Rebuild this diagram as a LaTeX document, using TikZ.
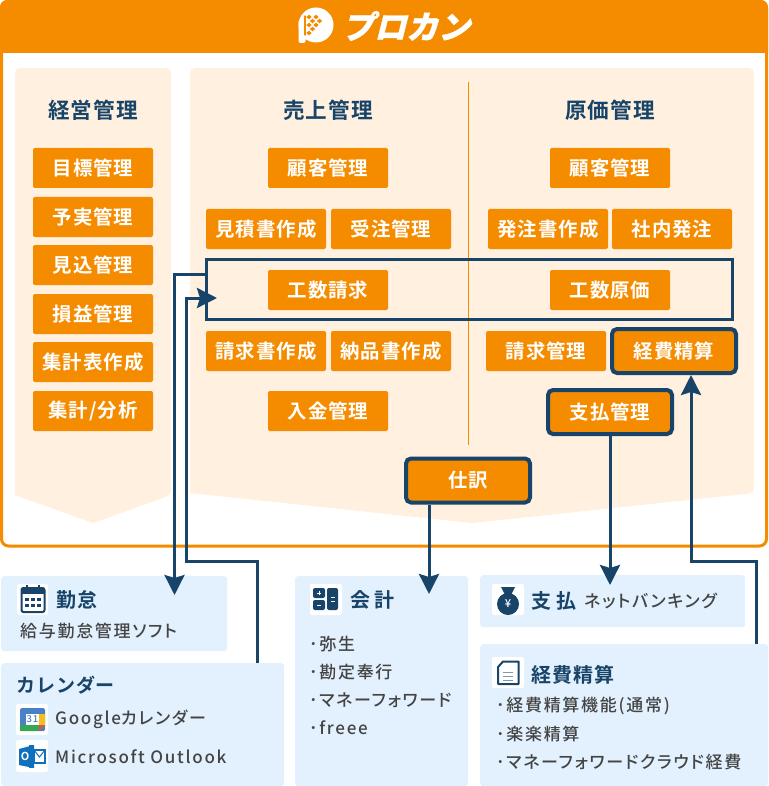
\documentclass[tikz,border=0pt]{standalone}
\usepackage{fontspec}
\setmainfont{Noto Sans CJK JP Medium}[UprightFeatures={LetterSpace=10,RawFeature=+palt},BoldFont={Noto Sans CJK JP Bold},BoldFeatures={LetterSpace=5}]
\newfontfamily\latinwide{Noto Sans CJK JP Medium}[LetterSpace=10]
\newfontfamily\logofont{Noto Sans CJK JP Black}[FakeSlant=0.25,FakeBold=1.2]
\usetikzlibrary{arrows.meta}
\definecolor{kanorange}{HTML}{F58C00}
\definecolor{kanpanel}{HTML}{FFF0DF}
\definecolor{kannavy}{HTML}{174468}
\definecolor{kanblue}{HTML}{E3F1FE}
\definecolor{kangray}{HTML}{444444}
\definecolor{gblue}{HTML}{4A80C8}
\definecolor{ggreen}{HTML}{34A853}
\definecolor{gyellow}{HTML}{F5BE1B}
\definecolor{gred}{HTML}{E5503F}
\definecolor{msblue}{HTML}{1170BE}
\newcommand{\fsz}[1]{\fontsize{#1}{#1}\selectfont}
\tikzset{
	orgbox/.style={fill=kanorange,rounded corners=2pt,minimum width=120pt,minimum height=40pt,inner sep=0pt,text=white,font=\fsz{19.4}\bfseries},
	hlbox/.style={orgbox,draw=kannavy,line width=4pt,rounded corners=5pt,minimum width=124pt,minimum height=44pt},
	headtxt/.style={text=kannavy,font=\fsz{21.6}\bfseries,inner sep=0pt},
	bluebox/.style={fill=kanblue,rounded corners=3pt,inner sep=0pt,anchor=north west},
	titletxt/.style={text=kannavy,font=\fsz{20}\bfseries,inner sep=0pt,anchor=west},
	bodytxt/.style={text=kangray,font=\fsz{17},inner sep=0pt,anchor=west},
	iconbg/.style={fill=white,rounded corners=2pt},
	conn/.style={kannavy,line width=3pt,-{Stealth[length=20pt,width=20pt,inset=3pt]}},
}
\begin{document}
\begin{tikzpicture}[x=1pt,y=-1pt]
	\useasboundingbox (0,0) rectangle (768,786);
	% frame and panels
	\draw[kanorange,fill=white,line width=3pt,rounded corners=7pt] (1.5,1.5) rectangle (766.5,546);
	\fill[kanorange,rounded corners=7pt] (0,53) -- (0,0) -- (768,0) [sharp corners] -- (768,53) -- cycle;
	\fill[kanpanel,rounded corners=5pt] (15,68) -- (171,68) -- (171,495) [sharp corners] -- (93,523) -- (15,495) [rounded corners=5pt] -- cycle;
	\fill[kanpanel,rounded corners=5pt] (190,68) -- (754,68) -- (754,493) [sharp corners] -- (472,523) -- (190,493) [rounded corners=5pt] -- cycle;
	\draw[kanorange,line width=.7pt] (468,82) -- (468,445);
	% logo
	\fill[white] (316,25) circle (17.5);
	\fill[white,rounded corners=2pt] (298.5,20) rectangle (305.5,43);
	\draw[kanorange,line width=1.3pt,line cap=round] (305,16) -- (305,35);
	\foreach \x/\y in {309/17,316/17,312.5/21,319.5/21,309/25,316/25,312.5/29,309/33}
	\fill[kanorange] (\x,\y-2.4) -- (\x+2.6,\y) -- (\x,\y+2.4) -- (\x-2.6,\y) -- cycle;
	\node[text=white,inner sep=0pt,font=\fsz{32}\logofont] (logo) at (406,26) {プロカン};
	% column heads
	\node[headtxt] (hkeiei) at (93,110) {経営管理};
	\node[headtxt] (huriage) at (328,110) {売上管理};
	\node[headtxt] (hgenka) at (610,110) {原価管理};
	% left column
	\foreach \n/\y/\t in {a/168/目標管理,b/217/予実管理,c/265/見込管理,d/314/損益管理,e/362/集計表作成,f/411/{集計/分析}}
	\node[orgbox] (keiei\n) at (93,\y) {\t};
	% sales column
	\node[orgbox] (ukokyaku) at (328,168) {顧客管理};
	\node[orgbox] (mitsumori) at (266,229) {見積書作成};
	\node[orgbox] (juchu) at (391,229) {受注管理};
	\node[orgbox] (kosuseikyu) at (328,290) {工数請求};
	\node[orgbox] (seikyusho) at (266,351) {請求書作成};
	\node[orgbox] (nohin) at (391,351) {納品書作成};
	\node[orgbox] (nyukin) at (328,411) {入金管理};
	% cost column
	\node[orgbox] (gkokyaku) at (610,168) {顧客管理};
	\node[orgbox] (hatchu) at (548,229) {発注書作成};
	\node[orgbox] (shanai) at (672,229) {社内発注};
	\node[orgbox] (kosugenka) at (610,290) {工数原価};
	\node[orgbox] (seikyu) at (546,351) {請求管理};
	\node[hlbox] (keihi) at (674,351) {経費精算};
	\node[hlbox] (shiharai) at (610,412) {支払管理};
	\node[hlbox] (shiwake) at (468,480.5) {仕訳};
	\node[draw=kannavy,line width=3pt,minimum width=526pt,minimum height=60pt,inner sep=0pt] (kosu) at (469.5,289.5) {};
	% outside systems
	\node[bluebox,minimum width=226pt,minimum height=75pt] (kintai) at (1,576) {};
	\node[bluebox,minimum width=283pt,minimum height=123pt] (calendar) at (1,663) {};
	\node[bluebox,minimum width=173pt,minimum height=210pt] (kaikei) at (295,576) {};
	\node[bluebox,minimum width=265pt,minimum height=52pt] (bank) at (480,575) {};
	\node[bluebox,minimum width=288pt,minimum height=142pt] (keihisys) at (480,644) {};
	% connectors
	\coordinate (kintaitip) at (174.5,595);
	\coordinate (kosutip) at (217,298);
	\coordinate (kaikeitip) at (429,594);
	\coordinate (banktip) at (610,585);
	\coordinate (keihitip) at (691,375);
	\draw[conn] (kosu.west |- 0,274) -| (kintaitip);
	\draw[conn] (257,663) |- (186,561) |- (kosutip);
	\draw[conn] (kaikeitip |- shiwake.south) -- (kaikeitip);
	\draw[conn] (shiharai.south) -- (banktip);
	\draw[conn] (756.5,644) |- (691,561) -- (keihitip);
	% kintai
	\fill[iconbg] (17,584) rectangle (48,615);
	\draw[kannavy,line width=2pt,rounded corners=2pt] (21.5,588) rectangle (44.5,612);
	\fill[kannavy] (21.5,588) rectangle (44.5,594);
	\foreach \x in {27,33,39} {
		\fill[kannavy] (\x-1.6,597.5) rectangle (\x+1.6,600.5);
		\fill[kannavy] (\x-1.6,603.5) rectangle (\x+1.6,606.5);
	}
	\draw[kannavy,line width=2pt] (27,585) -- (27,590) (39,585) -- (39,590);
	\node[titletxt] (kintaittl) at (56,600) {勤怠};
	\node[bodytxt] (kintaisoft) at (20,631) {給与勤怠管理ソフト};
	% calendar
	\node[titletxt,font=\fsz{19}\bfseries] (calttl) at (16,685) {カレンダー};
	\fill[iconbg] (16,704) rectangle (48,735);
	\fill[gblue,rounded corners=1.5pt] (20,708) rectangle (45,731);
	\fill[white] (26,714) rectangle (39,725);
	\fill[gyellow] (39,714) rectangle (45,725);
	\fill[ggreen] (20,725) rectangle (39,731);
	\fill[gred] (39,725) -- (45,725) -- (39,731) -- cycle;
	\node[text=gblue,inner sep=0pt,font=\fsz{9.5}] (gcal) at (32.5,719.5) {31};
	\node[bodytxt] (googletxt) at (55,719.5) {{\latinwide Google}カレンダー};
	\fill[iconbg] (16,740) rectangle (48,772);
	\fill[msblue] (34,745) -- (34,768) -- (19,765) -- (19,749) -- cycle;
	\draw[msblue,line width=1.2pt,fill=white] (34,750) rectangle (45,763);
	\draw[msblue,line width=1pt] (34,750) -- (39.5,757) -- (45,750);
	\fill[msblue] (29,745) -- (34,745) -- (34,768) -- (29,768) -- cycle;
	\node[text=white,inner sep=0pt,font=\fsz{11}\bfseries] (outl) at (25,756.5) {O};
	\node[bodytxt,font=\fsz{17}\latinwide] (outlooktxt) at (55,756.5) {Microsoft Outlook};
	% kaikei
	\fill[iconbg] (310,584) rectangle (342,615);
	\foreach \a/\b/\c/\d in {313/588/325/598,313/600/325/610,327/588/338/610}
	\fill[kannavy,rounded corners=2pt] (\a,\b) rectangle (\c,\d);
	\draw[white,line width=.9pt] (317,593) -- (321,593) (319,591) -- (319,595) (317,605) -- (321,605) (331,597) -- (335,597) (331,601) -- (335,601);
	\node[titletxt] (kaikeittl) at (350,600) {会\hspace{4pt}計};
	\foreach \y/\t in {644/･弥生,672/･勘定奉行,700/･マネーフォワード,728/･freee}
	\node[bodytxt] at (309,\y) {\t};
	% bank
	\fill[iconbg] (492,584) rectangle (524,615);
	\fill[kannavy] (508,604) circle (11);
	\fill[kannavy] (501,587) -- (515,587) -- (511,595) -- (505,595) -- cycle;
	\node[text=white,inner sep=0pt,font=\fsz{11}] (yen) at (508,604) {¥};
	\node[titletxt] (bankttl) at (531,601) {支\hspace{5pt}払};
	\node[bodytxt] (netbank) at (584,601) {ネットバンキング};
	% keihi
	\fill[iconbg] (492,657) rectangle (524,688);
	\draw[kannavy,line width=2pt,line join=round] (503,661.5) -- (518.5,661.5) -- (518.5,684) -- (498,684) -- (498,667) -- cycle;
	\draw[kannavy!55,line width=1pt] (503,672) -- (513,672) (503,676) -- (513,676) (503,680) -- (513,680);
	\node[titletxt] (keihittl) at (531,675) {経費精算};
	\foreach \y/\t in {706/･経費精算機能(通常),734/･楽楽精算,762/･マネーフォワードクラウド経費}
	\node[bodytxt] at (496,\y) {\t};
\end{tikzpicture}
\end{document}
